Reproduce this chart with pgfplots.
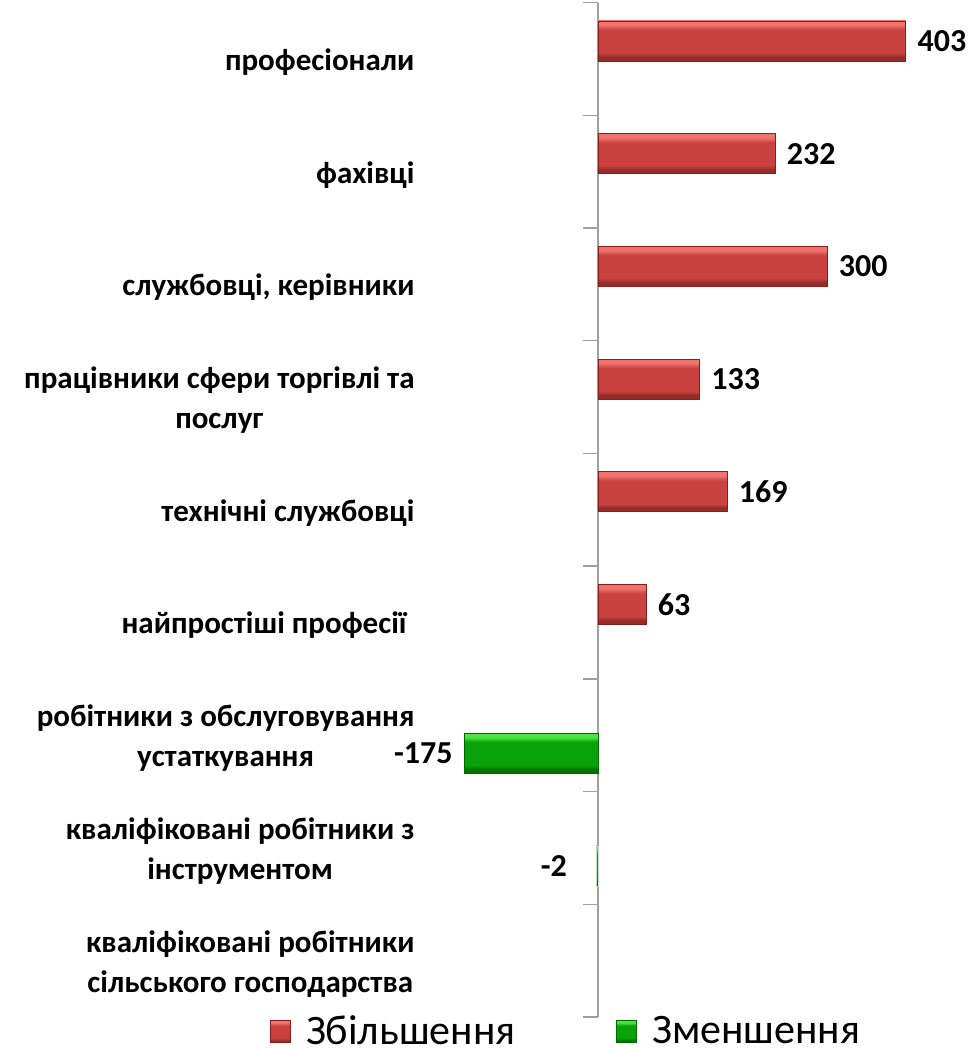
\documentclass[border=0pt]{standalone}
\usepackage{pgfplots}
\pgfplotsset{compat=1.18}
\usepackage{fontspec}
\setmainfont{Carlito}
\definecolor{redtop}{RGB}{240,115,110}
\definecolor{redmid}{RGB}{202,66,63}
\definecolor{redbot}{RGB}{150,44,42}
\definecolor{redline}{RGB}{135,30,30}
\definecolor{grtop}{RGB}{75,228,65}
\definecolor{grmid}{RGB}{10,162,10}
\definecolor{grbot}{RGB}{0,115,0}
\definecolor{grline}{RGB}{0,105,0}
\definecolor{axgray}{RGB}{160,160,160}
\pgfdeclareverticalshading{redbevel}{100bp}{color(0bp)=(redbot); color(30bp)=(redbot); color(35bp)=(redmid); color(64bp)=(redmid); color(70bp)=(redtop); color(100bp)=(redtop)}
\pgfdeclareverticalshading{grbevel}{100bp}{color(0bp)=(grbot); color(30bp)=(grbot); color(35bp)=(grmid); color(64bp)=(grmid); color(70bp)=(grtop); color(100bp)=(grtop)}
\pgfplotsset{
  redbar/.style={xbar, bar shift=18pt, draw=redline, line width=0.8pt, shade, shading=redbevel,
    every node near coord/.append style={anchor=west, xshift=8pt}, forget plot},
  grbar/.style={xbar, bar shift=-18pt, draw=grline, line width=0.8pt, shade, shading=grbevel,
    every node near coord/.append style={anchor=east, xshift=-8pt}, forget plot},
}
\begin{document}
\begin{tikzpicture}[x=1pt,y=1pt]
\path[use as bounding box] (0,0) rectangle (967,1049);
\begin{axis}[
  at={(445.2pt,32pt)}, anchor=south west,
  scale only axis, width=519.5pt, height=1014.5pt,
  xbar, bar width=40pt,
  xmin=-200, xmax=480,
  ymin=-0.5, ymax=8.5, y dir=reverse,
  axis x line=none, axis y line=center,
  axis line style={-, draw=axgray, line width=1.5pt},
  ytick={0,...,8},
  yticklabels={професіонали, фахівці, {службовці, керівники}, {працівники сфери торгівлі та\\послуг}, технічні службовці, {найпростіші професії\hspace*{8pt}}, {робітники з обслуговування\\устаткування}, {кваліфіковані робітники з\\інструментом}, {кваліфіковані робітники\\сільського господарства}},
  major tick length=0pt,
  extra y ticks={-0.5,0.5,...,8.5},
  extra y tick labels={},
  extra y tick style={major tick length=15pt, tick align=outside, tick style={draw=axgray, line width=1.5pt}},
  yticklabel style={font=\fontsize{31}{40}\selectfont\bfseries, align=center, anchor=east, xshift=-180pt, yshift=-3pt},
  clip=false,
  point meta=explicit symbolic,
  nodes near coords,
  nodes near coords style={font=\fontsize{32}{38}\selectfont\bfseries, text=black},
  legend columns=2,
  legend style={at={(-0.3372,-0.0286)}, anchor=south west, draw=none, fill=none, inner sep=0pt,
    nodes={inner sep=0pt},
    font=\fontsize{42}{50}\selectfont,
    /tikz/every odd column/.append style={column sep=15pt},
    /tikz/every even column/.append style={column sep=101pt}},
  legend image code/.code={\draw[#1,/tikz/.cd] (0pt,-12pt) rectangle (20pt,10pt);},
]
\addplot[redbar] table[x=v, y=c, meta=l] {
v c l
403 0 403
};
\addplot[redbar] table[x=v, y=c, meta=l] {
v c l
232 1 232
};
\addplot[redbar] table[x=v, y=c, meta=l] {
v c l
300 2 300
};
\addplot[redbar] table[x=v, y=c, meta=l] {
v c l
133 3 133
};
\addplot[redbar] table[x=v, y=c, meta=l] {
v c l
169 4 169
};
\addplot[redbar] table[x=v, y=c, meta=l] {
v c l
63 5 63
};
\addplot[grbar] table[x=v, y=c, meta=l] {
v c l
-175 6 -175
};
\addplot[grbar, draw=grline!25, line width=0.4pt, every node near coord/.append style={xshift=-18pt}] table[x=v, y=c, meta=l] {
v c l
-2 7 -2
};
\addlegendimage{draw=redline, line width=0.8pt, shade, shading=redbevel}
\addlegendentry{Збільшення}
\addlegendimage{draw=grline, line width=0.8pt, shade, shading=grbevel}
\addlegendentry{Зменшення}
\end{axis}
\end{tikzpicture}
\end{document}
